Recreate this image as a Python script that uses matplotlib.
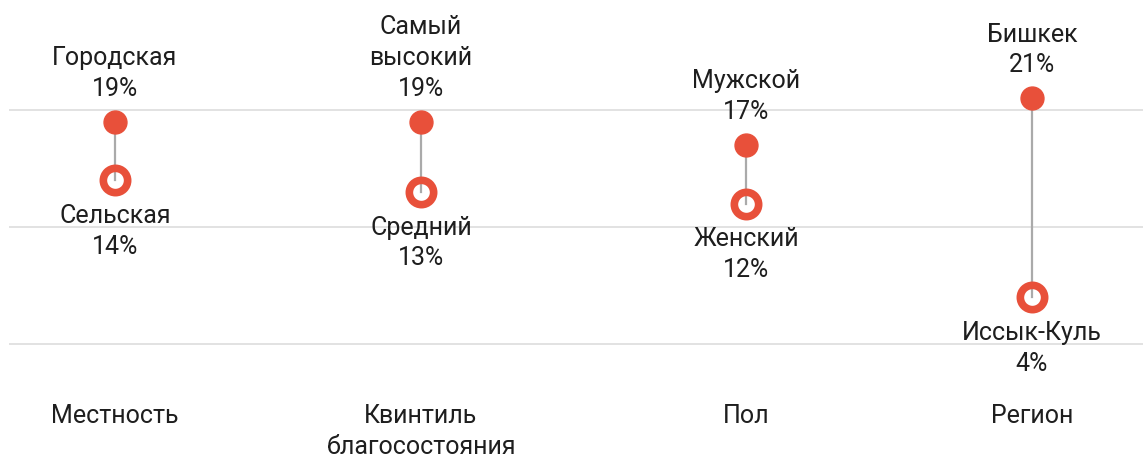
import matplotlib.pyplot as plt

plt.rcParams['font.family'] = ['Roboto', 'DejaVu Sans']

categories = ['Местность', 'Квинтиль\nблагосостояния', 'Пол', 'Регион']
top_labels = ['Городская', 'Самый\nвысокий', 'Мужской', 'Бишкек']
top_values = [19, 19, 17, 21]
bottom_labels = ['Сельская', 'Средний', 'Женский', 'Иссык-Куль']
bottom_values = [14, 13, 12, 4]

# horizontal centres of the four groups (figure pixels)
xpos = [115, 421, 746, 1032]

red = '#e8503a'
grey = '#aaaaaa'
ink = '#1e1e1e'

fig = plt.figure(figsize=(11.43, 4.63), dpi=100)
ax = fig.add_axes([0, 0, 1, 1])
ax.set_xlim(0, 1143)
ax.set_ylim(-10.17, 29.4)
ax.axis('off')

# gridlines at 0, 10, 20 %
ax.hlines([0, 10, 20], 9, 1143, color='#dddddd', lw=1.2, zorder=0)

fs = 18
ls = 1.36
for x, t_lab, t_val, b_lab, b_val, cat in zip(xpos, top_labels, top_values,
                                              bottom_labels, bottom_values, categories):
    ax.plot([x, x], [t_val, b_val], color=grey, lw=1.6, zorder=1)
    ax.plot(x, t_val, 'o', ms=16.5, color=red, mec=red, zorder=2)
    ax.plot(x, b_val, 'o', ms=17.5, mfc='none', mec=red, mew=5.5, zorder=2)

    ax.annotate(f'{t_lab}\n{t_val}%', (x, t_val), xytext=(0, 15),
                textcoords='offset points', ha='center', va='bottom',
                fontsize=fs, color=ink, linespacing=ls)
    ax.annotate(f'{b_lab}\n{b_val}%', (x, b_val), xytext=(0, -17),
                textcoords='offset points', ha='center', va='top',
                fontsize=fs, color=ink, linespacing=ls)

    ax.text(x, -5.1, cat, ha='center', va='top', fontsize=fs, color=ink,
            linespacing=ls)

fig.savefig('out.png', dpi=100)
